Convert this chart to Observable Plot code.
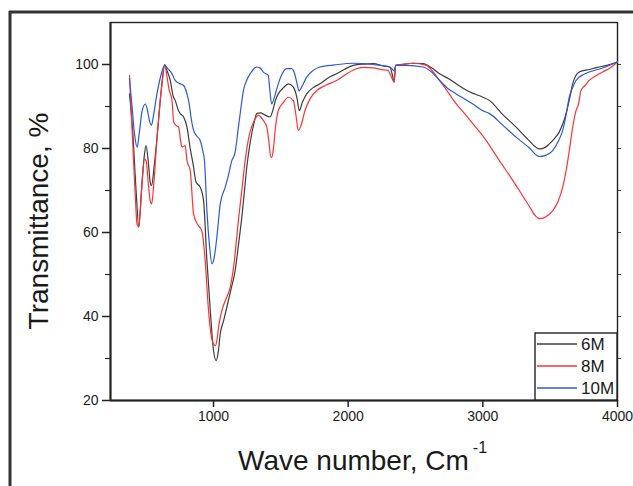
<!DOCTYPE html>
<html><head><meta charset="utf-8">
<script src="https://cdn.jsdelivr.net/npm/d3@7"></script>
<script src="https://cdn.jsdelivr.net/npm/@observablehq/plot@0.6"></script>
<style>body{margin:0;background:#fff;} svg{display:block;}</style>
</head><body><div id="chart"></div>
<script>
const series = ["6M", "8M", "10M"];
const colors = ["#3c3c3c", "#ff3232", "#2b5ad8"];

const wn6 = [376,400,425,445,465,485,499,515,530,540,560,590,615,637,655,679,700,716,740,753,778,803,827,850,870,901,926,951,976,1000,1020,1035,1050,1075,1099,1130,1161,1185,1210,1230,1247,1270,1300,1321,1350,1380,1420,1440,1460,1481,1520,1556,1593,1620,1637,1660,1692,1740,1790,1850,1914,1970,2037,2117,2185,2267,2309,2329,2341,2353,2400,2480,2556,2620,2679,2753,2803,2900,3000,3050,3150,3247,3340,3420,3460,3494,3530,3567,3595,3618,3645,3667,3690,3716,3790,3850,3920,4000];
const t6  = [93.0,84,70,61.5,70,78,80.7,77,72,71.2,76,86,95,100,98.5,96.2,92.5,91.4,89,88.3,87.5,85.1,80,76,72,70.8,67.6,53.3,41.4,31.9,29.5,31.5,35.9,39,42.2,46.5,51.0,57,63.6,70,75.6,81,86,88.3,88.5,88.0,87.5,89,91.5,93.0,94.5,95.4,94.6,92,89.0,91,93.0,94.5,95.4,96.8,97.8,98.8,99.8,100.1,100.2,99.6,99.4,97.4,95.8,99.8,100,100.3,100.2,99.2,97.8,96.5,95.4,93.5,92.2,91.4,88,85.1,82,79.9,80.2,81.1,82.3,83.9,86,88.3,92,95.4,97.3,98.2,98.8,99.3,99.8,100.6];

const wn8 = [376,390,405,420,432,445,458,472,487,500,515,530,541,555,575,600,620,637,655,670,692,704,722,741,755,766,790,803,827,852,880,914,938,963,985,1000,1012,1025,1040,1062,1090,1124,1150,1185,1210,1235,1250,1272,1300,1333,1370,1396,1410,1425,1433,1445,1460,1481,1520,1556,1593,1612,1630,1650,1679,1720,1766,1830,1914,1990,2062,2120,2185,2250,2296,2321,2333,2340,2353,2420,2482,2581,2630,2679,2740,2803,2860,2926,3000,3050,3123,3200,3271,3340,3390,3420,3460,3519,3560,3593,3620,3642,3667,3692,3710,3729,3760,3790,3850,3889,3950,4000];
const t8  = [97.4,88,78,68,62,61.3,66,73,77.5,77,72,67.5,66.8,71,80,90,96,100,97,94,91.4,86.3,85.5,85.1,82,80.3,80.7,77.1,74.8,64.4,62,60.3,53.3,41.4,35,33.5,33,34.3,38,41.4,44,47.0,52,62.9,70,77.1,80.5,84,86.5,87.9,86.7,85.1,82,78,77.9,80,85,89.0,91,92.2,91.4,88,84.3,85.5,89.0,92,93.8,95,96.2,97.8,99.0,99.3,99.2,98.8,98.6,97,96.2,95.8,99.8,100.1,100.3,99.8,98.3,96.2,93.5,90.6,88.5,85.9,83,80.7,77.1,73.5,70,66.5,64,63.3,63.6,65.2,67.5,70.8,75,79.5,85,89.0,90.5,93.8,95,96.2,97.5,98.2,99.3,100.6];

const wn10 = [376,395,415,433,450,470,494,510,525,539,555,580,610,637,660,692,710,729,760,778,803,820,835,852,875,901,920,933,951,970,988,1005,1025,1050,1087,1110,1136,1160,1185,1205,1222,1250,1272,1300,1321,1345,1370,1400,1407,1415,1432,1450,1481,1510,1544,1581,1605,1620,1635,1660,1692,1740,1790,1900,2037,2185,2309,2329,2341,2353,2432,2556,2620,2679,2740,2803,2926,3000,3050,3150,3247,3340,3420,3460,3519,3560,3593,3620,3642,3667,3692,3740,3790,3900,4000];
const t10  = [96.7,90,83,80.3,84,89,90.6,89,86.5,85.5,88,93,97.5,99.8,99,97.8,96.5,95.8,95.3,95.0,93.0,90.5,87,84.3,83,81.9,79.5,77.1,65.2,57,52.5,54,58.9,66.8,70.8,73.5,77.1,79,85.1,90,93.8,96.5,97.8,99,99.4,99.2,98.2,97.6,97.4,95,90.6,92,95.4,97.8,99.0,99.0,97.5,95.5,93.7,95,97.0,98.6,99.4,99.9,100.3,100,99.4,98.8,98.5,99.8,99.8,99.4,98.2,96.2,94.3,93,90.6,89.0,88.3,85.5,82.7,80.3,78.1,78.3,79.5,81.7,84.3,88.3,92.2,94.5,96.2,97.5,98.2,99.3,100.6];

const xTicks = [1000, 2000, 3000, 4000];
const yTicks = [20, 40, 60, 80, 100];
const yMinor = [30, 50, 70, 90];
const yRight = [30, 40, 50, 60, 70, 80, 90, 100];

const rows = (wn, t, s) => wn.map((w, i) => ({wn: w, t: t[i], s}));
const data = [
  ...rows(wn6, t6, "6M"),
  ...rows(wn8, t8, "8M"),
  ...rows(wn10, t10, "10M")
];

const FONT = "'Liberation Sans', Arial, sans-serif";
const W = 633, H = 486;
const chart = Plot.plot({
  width: W, height: H,
  marginLeft: 110, marginRight: 16, marginTop: 22, marginBottom: 86,
  style: {fontFamily: FONT, fontSize: "14px", color: "#1a1a1a", background: "#fff"},
  x: {domain: [235, 4000]},
  y: {domain: [20, 110]},
  color: {domain: series, range: colors},
  marks: [
    Plot.frame({stroke: "#222", strokeWidth: 1.4}),
    Plot.ruleY([20], {stroke: "#222", strokeWidth: 2}),
    Plot.ruleX([235], {stroke: "#222", strokeWidth: 2}),
    Plot.axisX({ticks: xTicks, tickSize: 7, tickPadding: 4, fontSize: 14, tickFormat: d3.format("d"), label: null, stroke: "#222", strokeWidth: 1.5}),
    Plot.axisY({ticks: yTicks, tickSize: 8, tickPadding: 4, fontSize: 14, tickFormat: d3.format("d"), label: null, stroke: "#222", strokeWidth: 1.5}),
    Plot.axisY({ticks: yMinor, tickSize: 5, tickFormat: () => "", label: null, stroke: "#222", strokeWidth: 1.2}),
    Plot.axisY({anchor: "right", ticks: yRight, tickSize: 3, tickFormat: () => "", label: null, stroke: "#444"}),
    Plot.line(data, {x: "wn", y: "t", z: "s", stroke: "s", strokeWidth: 1.2, curve: "monotone-x"})
  ]
});
document.getElementById("chart").appendChild(chart);

const svg = d3.select(chart);
// scanned outer border
svg.append("line").attr("x1", 9).attr("x2", W).attr("y1", 12).attr("y2", 12).attr("stroke", "#333").attr("stroke-width", 3);
svg.append("line").attr("x1", 10).attr("x2", 10).attr("y1", 11).attr("y2", H).attr("stroke", "#333").attr("stroke-width", 3);

// axis titles
svg.append("text")
  .attr("transform", "translate(48,221) rotate(-90)")
  .attr("text-anchor", "middle")
  .attr("font-size", 28).attr("fill", "#1a1a1a")
  .attr("font-family", FONT)
  .text("Transmittance, %");
const xt = svg.append("text")
  .attr("x", 238).attr("y", 470)
  .attr("text-anchor", "start")
  .attr("font-size", 28).attr("fill", "#1a1a1a")
  .attr("font-family", FONT);
xt.append("tspan").text("Wave number, Cm");
xt.append("tspan").attr("dx", 4).attr("dy", -17).attr("font-size", 16).text("-1");

// legend
const lg = svg.append("g").attr("font-family", FONT).attr("text-anchor", "start");
lg.append("rect").attr("x", 535).attr("y", 333).attr("width", 82).attr("height", 67)
  .attr("fill", "#fff").attr("stroke", "#222").attr("stroke-width", 1.4);
const ly = [344, 366, 388];
series.forEach((s, i) => {
  lg.append("line").attr("x1", 537).attr("x2", 577).attr("y1", ly[i]).attr("y2", ly[i])
    .attr("stroke", colors[i]).attr("stroke-width", 1.3);
  lg.append("text").attr("x", 581).attr("y", ly[i]).attr("dy", "0.36em")
    .attr("text-anchor", "start")
    .attr("font-size", 17).attr("fill", "#1a1a1a").text(s);
});
</script>
</body></html>
